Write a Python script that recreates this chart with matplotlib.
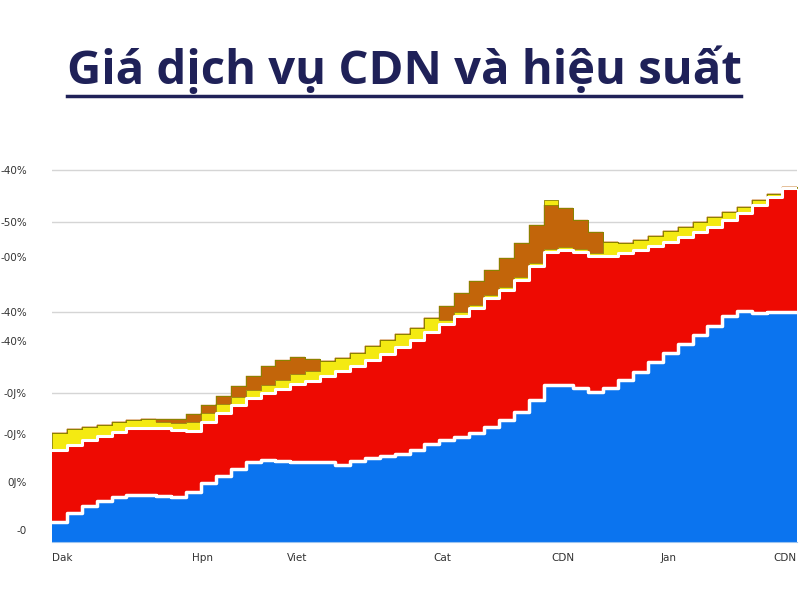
import numpy as np
import matplotlib
matplotlib.use('Agg')
import matplotlib.pyplot as plt
from matplotlib.lines import Line2D

# layer heights for each step
blue = [20, 29, 36, 41, 45, 47, 47, 46, 45, 50,
        59, 66, 73, 80, 82, 81, 80, 80, 80, 77,
        81, 84, 86, 88, 92, 98, 102, 105, 109, 115,
        122, 130, 142, 157, 157, 154, 150, 154, 162, 170,
        180, 189, 198, 207, 216, 226, 231, 229, 230, 230]
red = [72, 68, 66, 65, 65, 67, 67, 68, 67, 61,
       61, 63, 64, 64, 67, 72, 78, 81, 86, 94,
       95, 98, 102, 107, 110, 112, 116, 121, 125, 129,
       130, 132, 134, 133, 135, 136, 136, 132, 127, 122,
       116, 111, 107, 103, 99, 96, 98, 108, 115, 124]
yellow = [17, 16, 13, 11, 10, 8, 9, 6, 7, 9,
          9, 9, 8, 8, 8, 9, 10, 10, 15, 13,
          13, 14, 14, 13, 12, 14, 4, 4, 3, 3,
          3, 3, 3, 3, 3, 3, 3, 14, 10, 10,
          10, 11, 10, 10, 10, 8, 6, 5, 3, 1]
brown = [0, 0, 0, 0, 0, 0, 0, 3, 4, 8,
         8, 8, 11, 14, 19, 20, 17, 12, 0, 0,
         0, 0, 0, 0, 0, 0, 14, 19, 24, 25,
         29, 34, 38, 44, 39, 29, 21, 0, 0, 0,
         0, 0, 0, 0, 0, 0, 0, 0, 0, 0]
cap = [0] * 33 + [5] + [0] * 16

ytick_pos = [372, 320, 285, 230, 201, 149, 108, 60, 12]
ytick_lab = ['-40%', '-50%', '-00%', '-40%', '-40%', '-0J%', '-0J%', '0J%', '-0']
grid_pos = [372, 320, 230, 149, 108, 60]
xtick_pos = [0.67, 10.13, 16.44, 26.17, 34.3, 41.4, 49.2]
xtick_lab = ['Dak', 'Hpn', 'Viet', 'Cat', 'CDN', 'Jan', 'CDN']

fig = plt.figure(figsize=(8, 6), dpi=100)
ax = fig.add_axes([0.065, 0.0967, 0.931, 0.6533])

x = np.arange(len(blue) + 1)
def ext(a):
    a = np.array(a, dtype=float)
    return np.append(a, a[-1])

b0 = np.zeros(len(x))
b1 = b0 + ext(blue)
b2 = b1 + ext(red)
b3 = b2 + ext(yellow)
b4 = b3 + ext(brown)
b5 = b4 + ext(cap)

for g in grid_pos:
    ax.axhline(g, color='#d5d5d5', lw=1, zorder=0)

ax.fill_between(x, b0, b1, step='post', color='#0b74ef', lw=0, zorder=2)
ax.fill_between(x, b1, b2, step='post', color='#ee0a02', lw=0, zorder=2)
ax.fill_between(x, b2, b3, step='post', facecolor='#f4ea12', edgecolor='#8a8200', lw=0.6, zorder=2)
ax.fill_between(x, b3, b4, step='post', facecolor='#c2650a', edgecolor='#c2650a', lw=0.3, zorder=3)
ax.fill_between(x, b4, b5, step='post', facecolor='#f4ea12', edgecolor='#8a8200', lw=0.6, zorder=3)

# white separators between layers
ax.plot(x, b1, drawstyle='steps-post', color='white', lw=2.5, zorder=4)
ax.plot(x, b2, drawstyle='steps-post', color='white', lw=2.2, zorder=4)

ax.set_xlim(0, 50)
ax.set_ylim(0, 392)
ax.set_yticks(ytick_pos)
ax.set_yticklabels(ytick_lab, fontsize=7.5, color='#333333')
ax.set_xticks(xtick_pos)
ax.set_xticklabels(xtick_lab, fontsize=7.5, color='#333333')
ax.tick_params(length=0, pad=18, axis='y')
ax.tick_params(length=0, pad=8, axis='x')
for s in ['top', 'right', 'left']:
    ax.spines[s].set_visible(False)
ax.spines['bottom'].set_color('#9cc4f0')

t = fig.text(0.505, 1 - 84 / 600, 'Giá dịch vụ CDN và hiệu suất', ha='center', va='baseline',
             fontsize=34, fontweight='bold', color='#1f2158', family=['Open Sans', 'DejaVu Sans'])
fig.canvas.draw()
bb = t.get_window_extent()
W, H = fig.get_size_inches() * fig.dpi
fig.add_artist(Line2D([bb.x0 / W, bb.x1 / W], [1 - 96 / 600, 1 - 96 / 600],
                      color='#1f2158', lw=2.5, transform=fig.transFigure))

fig.savefig('out.png', dpi=100)
